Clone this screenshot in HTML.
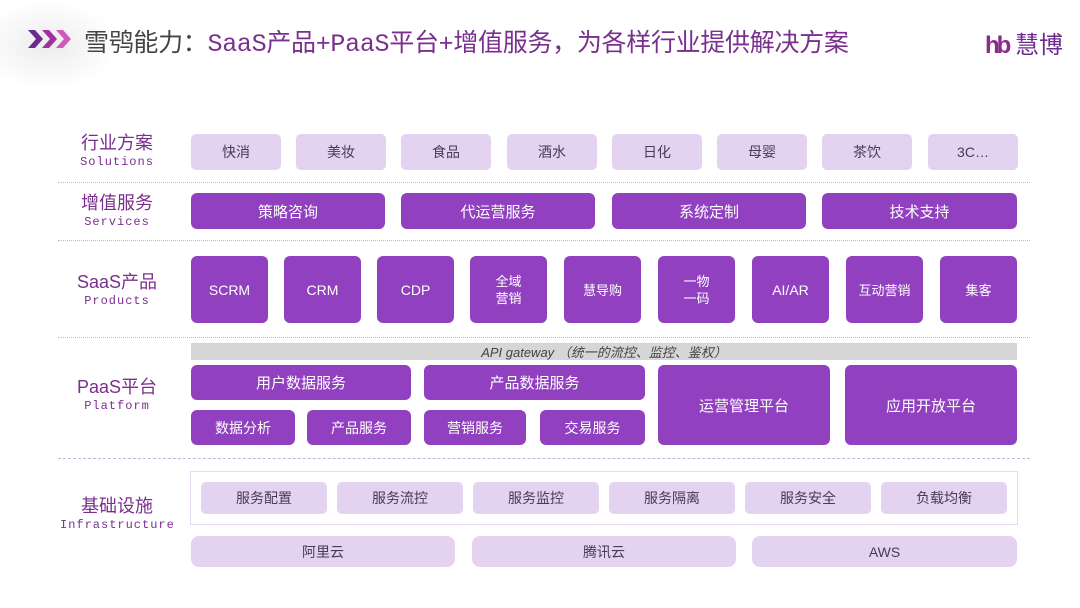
<!DOCTYPE html>
<html><head><meta charset="utf-8"><style>
*{margin:0;padding:0;box-sizing:border-box}
body{width:1080px;height:608px;background:#fff;position:relative;overflow:hidden;font-family:"Liberation Sans","Noto Sans CJK SC",sans-serif}
.a{position:absolute;display:flex;align-items:center;justify-content:center;text-align:center}
.l{background:#e3d2f0;color:#4a3a5a;border-radius:5px;font-size:14px}
.d{background:#9140bf;color:#fff;border-radius:6px;font-size:15px}
.h{position:absolute;left:58px;width:972px;border-top:1.5px dotted #c9b0dc}
.lab{position:absolute;left:60px;width:114px;text-align:center;color:#7a2f8e}
.lab b{display:block;font-weight:normal;font-size:18px;line-height:21px}
.lab i{display:block;font-style:normal;font-size:12px;letter-spacing:1px;line-height:16px;font-family:"Liberation Mono",monospace}
</style></head><body>
<div style="position:absolute;left:0;top:0;width:120px;height:90px;background:radial-gradient(ellipse at 40% 50%,#ececec,#fff 70%)"></div>
<svg style="position:absolute;left:26px;top:28px" width="50" height="22"><polygon points="2,2 9,2 17,11 9,20 2,20 10,11" fill="#6b2a8c"/><polygon points="16,2 23,2 31,11 23,20 16,20 24,11" fill="#a1309f"/><polygon points="30,2 37,2 45,11 37,20 30,20 38,11" fill="#d05ab9"/></svg>
<div style="position:absolute;left:84px;top:23px;font-size:25px;white-space:nowrap;font-family:'Liberation Mono','Noto Sans CJK SC',sans-serif;letter-spacing:-0.3px"><span style="color:#444">雪鸮能力：</span><span style="color:#7a2f8e">SaaS产品+PaaS平台+增值服务，为各样行业提供解决方案</span></div>
<div style="position:absolute;left:985px;top:25px;font-size:24px;color:#6b2a8c;white-space:nowrap"><span style="font-weight:bold;color:#8a2a8a;letter-spacing:-3px">hb</span> 慧博</div>

<div class="lab" style="top:133px"><b>行业方案</b><i>Solutions</i></div>
<div class="lab" style="top:193px"><b>增值服务</b><i>Services</i></div>
<div class="lab" style="top:272px"><b>SaaS产品</b><i>Products</i></div>
<div class="lab" style="top:377px"><b>PaaS平台</b><i>Platform</i></div>
<div class="lab" style="top:496px"><b>基础设施</b><i>Infrastructure</i></div>

<div class="a l" style="left:191px;top:134px;width:90px;height:36px">快消</div>
<div class="a l" style="left:296px;top:134px;width:90px;height:36px">美妆</div>
<div class="a l" style="left:401px;top:134px;width:90px;height:36px">食品</div>
<div class="a l" style="left:507px;top:134px;width:90px;height:36px">酒水</div>
<div class="a l" style="left:612px;top:134px;width:90px;height:36px">日化</div>
<div class="a l" style="left:717px;top:134px;width:90px;height:36px">母婴</div>
<div class="a l" style="left:822px;top:134px;width:90px;height:36px">茶饮</div>
<div class="a l" style="left:928px;top:134px;width:90px;height:36px">3C…</div>
<div class="h" style="top:182px"></div>

<div class="a d" style="left:191px;top:193px;width:194px;height:36px">策略咨询</div>
<div class="a d" style="left:401px;top:193px;width:194px;height:36px">代运营服务</div>
<div class="a d" style="left:612px;top:193px;width:194px;height:36px">系统定制</div>
<div class="a d" style="left:822px;top:193px;width:195px;height:36px">技术支持</div>
<div class="h" style="top:240px"></div>

<div class="a d" style="left:191px;top:256px;width:77px;height:67px;font-size:14px">SCRM</div>
<div class="a d" style="left:284px;top:256px;width:77px;height:67px;font-size:14px">CRM</div>
<div class="a d" style="left:377px;top:256px;width:77px;height:67px;font-size:14px">CDP</div>
<div class="a d" style="left:470px;top:256px;width:77px;height:67px;font-size:13px;line-height:17px">全域<br>营销</div>
<div class="a d" style="left:564px;top:256px;width:77px;height:67px;font-size:13px">慧导购</div>
<div class="a d" style="left:658px;top:256px;width:77px;height:67px;font-size:13px;line-height:17px">一物<br>一码</div>
<div class="a d" style="left:752px;top:256px;width:77px;height:67px;font-size:14px">AI/AR</div>
<div class="a d" style="left:846px;top:256px;width:77px;height:67px;font-size:13px">互动营销</div>
<div class="a d" style="left:940px;top:256px;width:77px;height:67px;font-size:13px">集客</div>
<div class="h" style="top:337px"></div>

<div class="a" style="left:191px;top:343px;width:826px;height:17px;background:#d6d6d6;color:#444;font-size:13px;font-style:italic">API gateway （统一的流控、监控、鉴权）</div>
<div class="a d" style="left:191px;top:365px;width:220px;height:35px">用户数据服务</div>
<div class="a d" style="left:424px;top:365px;width:221px;height:35px">产品数据服务</div>
<div class="a d" style="left:191px;top:410px;width:104px;height:35px;font-size:14px">数据分析</div>
<div class="a d" style="left:307px;top:410px;width:104px;height:35px;font-size:14px">产品服务</div>
<div class="a d" style="left:424px;top:410px;width:102px;height:35px;font-size:14px">营销服务</div>
<div class="a d" style="left:540px;top:410px;width:105px;height:35px;font-size:14px">交易服务</div>
<div class="a d" style="left:658px;top:365px;width:172px;height:80px">运营管理平台</div>
<div class="a d" style="left:845px;top:365px;width:172px;height:80px">应用开放平台</div>
<div class="h" style="top:458px;border-top-style:dashed"></div>

<div style="position:absolute;left:190px;top:471px;width:828px;height:54px;border:1.5px solid #e6d8f2"></div>
<div class="a l" style="left:201px;top:482px;width:126px;height:32px">服务配置</div>
<div class="a l" style="left:337px;top:482px;width:126px;height:32px">服务流控</div>
<div class="a l" style="left:473px;top:482px;width:126px;height:32px">服务监控</div>
<div class="a l" style="left:609px;top:482px;width:126px;height:32px">服务隔离</div>
<div class="a l" style="left:745px;top:482px;width:126px;height:32px">服务安全</div>
<div class="a l" style="left:881px;top:482px;width:126px;height:32px">负载均衡</div>
<div class="a l" style="left:191px;top:536px;width:264px;height:31px;border-radius:8px">阿里云</div>
<div class="a l" style="left:472px;top:536px;width:264px;height:31px;border-radius:8px">腾讯云</div>
<div class="a l" style="left:752px;top:536px;width:265px;height:31px;border-radius:8px">AWS</div>
</body></html>
